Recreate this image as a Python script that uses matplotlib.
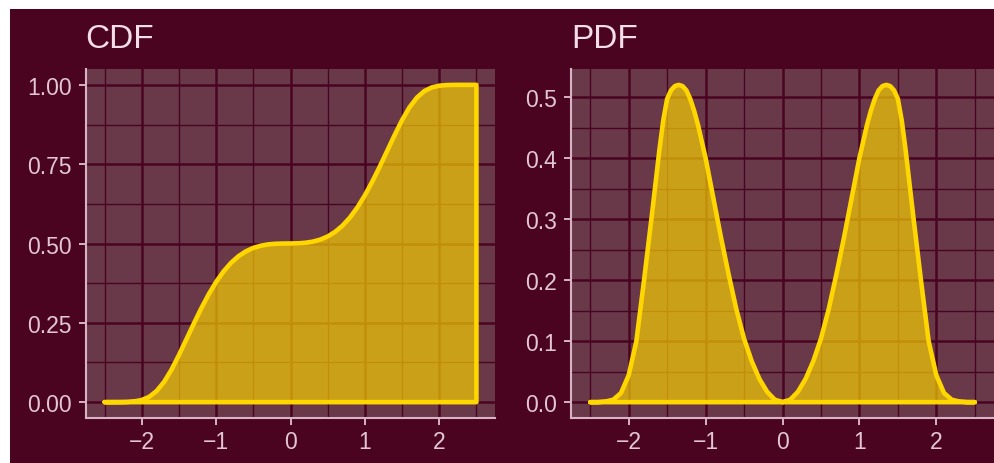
import matplotlib
matplotlib.use("Agg")
import matplotlib.pyplot as plt
from matplotlib.patches import Rectangle

plt.rcParams['font.family'] = ['Liberation Sans', 'DejaVu Sans']

# data
cdf_x = [-2.5, -2.4, -2.3, -2.2, -2.1, -2.0, -1.9, -1.8, -1.7, -1.6, -1.5,
         -1.4, -1.3, -1.2, -1.1, -1.0, -0.9, -0.8, -0.7, -0.6, -0.5,
         -0.4, -0.3, -0.2, -0.1, 0.0, 0.1, 0.2, 0.3, 0.4, 0.5,
         0.6, 0.7, 0.8, 0.9, 1.0, 1.1, 1.2, 1.3, 1.4, 1.5,
         1.6, 1.7, 1.8, 1.9, 2.0, 2.1, 2.2, 2.3, 2.4, 2.5]
cdf_y = [0.0, 0.0, 0.0001, 0.0005, 0.0022, 0.0067, 0.0167, 0.0352, 0.0638, 0.1024, 0.1485,
         0.198, 0.2477, 0.2956, 0.3399, 0.3789, 0.4121, 0.439, 0.4599, 0.4753, 0.4861,
         0.493, 0.4972, 0.4992, 0.4999, 0.5001, 0.5006, 0.5023, 0.5059, 0.5123, 0.5222,
         0.5367, 0.5564, 0.5821, 0.6139, 0.6519, 0.6951, 0.7424, 0.7919, 0.8416, 0.8888,
         0.9292, 0.9599, 0.9804, 0.9919, 0.9973, 0.9994, 0.9999, 1.0, 1.0, 1.0]

pdf_x = [-2.5, -2.4, -2.3, -2.2, -2.1, -2.0, -1.9, -1.8, -1.7, -1.6, -1.55, -1.5,
         -1.45, -1.4, -1.35, -1.3, -1.25, -1.2, -1.15, -1.1, -1.0, -0.9, -0.8,
         -0.7, -0.6, -0.5, -0.4, -0.3, -0.2, -0.1, 0.0, 0.1, 0.2, 0.3, 0.4,
         0.5, 0.6, 0.7, 0.8, 0.9, 1.0, 1.1, 1.15, 1.2, 1.25, 1.3, 1.35,
         1.4, 1.45, 1.5, 1.55, 1.6, 1.7, 1.8, 1.9, 2.0, 2.1, 2.2, 2.3, 2.4, 2.5]
pdf_y = [0.0, 0.0, 0.001, 0.004, 0.015, 0.044, 0.100, 0.200, 0.305, 0.414, 0.462, 0.497,
         0.511, 0.518, 0.520, 0.518, 0.511, 0.497, 0.478, 0.455, 0.400, 0.335, 0.270,
         0.209, 0.152, 0.104, 0.067, 0.038, 0.017, 0.004, 0.0, 0.004, 0.017, 0.038, 0.067,
         0.104, 0.152, 0.209, 0.270, 0.335, 0.400, 0.455, 0.478, 0.497, 0.511, 0.518, 0.520,
         0.518, 0.511, 0.497, 0.462, 0.414, 0.305, 0.200, 0.100, 0.044, 0.015, 0.004, 0.001, 0.0, 0.0]

x_ticks = [-2, -1, 0, 1, 2]
x_labels = ["\u22122", "\u22121", "0", "1", "2"]
x_minor = [-2.5, -1.5, -0.5, 0.5, 1.5, 2.5]
cdf_ticks = [0, 0.25, 0.5, 0.75, 1.0]
cdf_labels = ["0.00", "0.25", "0.50", "0.75", "1.00"]
cdf_minor = [0.125, 0.375, 0.625, 0.875]
pdf_ticks = [0, 0.1, 0.2, 0.3, 0.4, 0.5]
pdf_labels = ["0.0", "0.1", "0.2", "0.3", "0.4", "0.5"]
pdf_minor = [0.05, 0.15, 0.25, 0.35, 0.45]

BG = "#4a0420"
PANEL = "#69394a"
AXIS = "#d9b2c6"
TEXT = "#e3c6d5"
TITLE = "#f2dde8"
GOLD = "#ffd700"

W, H = 994, 464
fig = plt.figure(figsize=(W / 100, H / 100), dpi=100, facecolor="white")
fig.patches.append(Rectangle((10 / W, 0), 1 - 10 / W, (H - 10) / H,
                             transform=fig.transFigure, facecolor=BG,
                             edgecolor="none", zorder=-10))


def panel(rect, x, y, yticks, ylabels, yminor, title, title_x):
    ax = fig.add_axes(rect, facecolor=PANEL)
    ax.set_axisbelow(True)
    pts_x = list(x) + [x[-1], x[0]]
    pts_y = list(y) + [0, 0]
    ax.fill(pts_x, pts_y, color=GOLD, alpha=0.66, lw=0, zorder=1)
    ax.plot(pts_x, pts_y, color=GOLD, lw=3.3, solid_joinstyle="round",
            solid_capstyle="round", zorder=2)
    ymax = max(y)
    ax.set_xlim(-2.75, 2.75)
    ax.set_ylim(-0.05 * ymax, 1.05 * ymax)
    ax.set_xticks(x_ticks)
    ax.set_xticklabels(x_labels)
    ax.set_xticks(x_minor, minor=True)
    ax.set_yticks(yticks)
    ax.set_yticklabels(ylabels)
    ax.set_yticks(yminor, minor=True)
    ax.grid(which="major", color=BG, lw=1.8)
    ax.grid(which="minor", color=BG, lw=1.0)
    for s in ["top", "right"]:
        ax.spines[s].set_visible(False)
    for s in ["left", "bottom"]:
        ax.spines[s].set_color(AXIS)
        ax.spines[s].set_linewidth(1.5)
    ax.tick_params(which="major", length=4.8, width=1.4, color=AXIS,
                   labelcolor=TEXT, labelsize=16.5)
    ax.tick_params(axis="y", pad=5.5)
    ax.tick_params(axis="x", pad=3.5)
    ax.tick_params(which="minor", length=0)
    fig.text(title_x / W, 1 - 48 / H, title, color=TITLE, fontsize=24,
             ha="left", va="baseline")
    return ax


panel([86 / W, 45 / H, 409 / W, 349 / H], cdf_x, cdf_y,
      cdf_ticks, cdf_labels, cdf_minor, "CDF", 85)
panel([571 / W, 45 / H, 423 / W, 349 / H], pdf_x, pdf_y,
      pdf_ticks, pdf_labels, pdf_minor, "PDF", 571)

fig.savefig("out.png", dpi=100, facecolor=fig.get_facecolor())
